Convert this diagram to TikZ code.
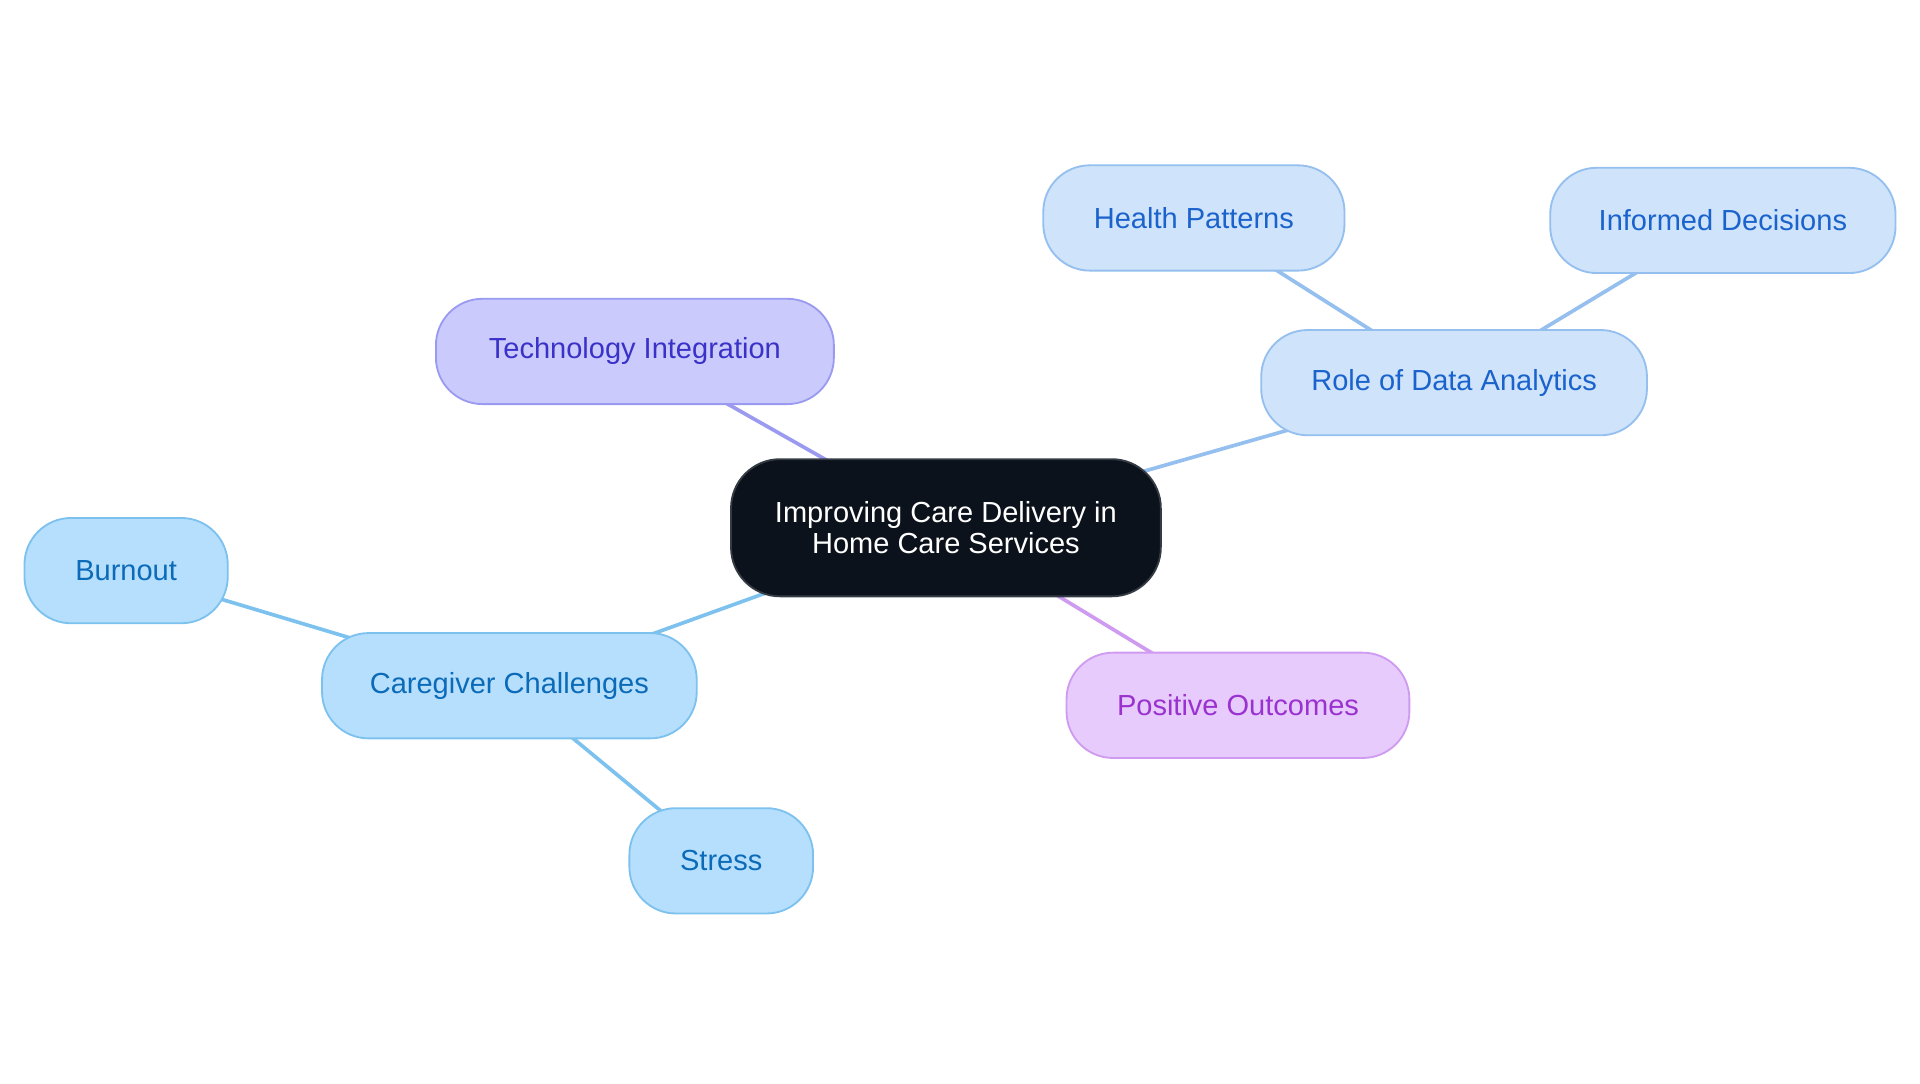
\documentclass[tikz,border=0pt]{standalone}
\usepackage{fontspec}
\setmainfont{Liberation Sans}
\usetikzlibrary{backgrounds}
\definecolor{cfill}{HTML}{0C121B}
\definecolor{cdraw}{HTML}{343B45}
\definecolor{tfill}{HTML}{CACBFC}
\definecolor{tdraw}{HTML}{9A9BF0}
\definecolor{ttext}{HTML}{3A32C8}
\definecolor{dfill}{HTML}{CFE3FB}
\definecolor{ddraw}{HTML}{94BFEE}
\definecolor{dtext}{HTML}{1A63CC}
\definecolor{gfill}{HTML}{B5DFFC}
\definecolor{gdraw}{HTML}{7DC1EE}
\definecolor{gtext}{HTML}{0C6BB8}
\definecolor{pfill}{HTML}{E7CBFC}
\definecolor{pdraw}{HTML}{CF9BF0}
\definecolor{ptext}{HTML}{9A32D0}
\tikzset{
  box/.style={rectangle, rounded corners=38pt, line width=1.5pt, inner sep=0pt,
    minimum height=86pt, align=center, font=\fontsize{23.7}{25}\selectfont},
  centralbox/.style={box, rounded corners=40pt, fill=cfill, draw=cdraw, text=white, minimum height=112pt, minimum width=351pt},
  techbox/.style={box, fill=tfill, draw=tdraw, text=ttext},
  databox/.style={box, fill=dfill, draw=ddraw, text=dtext},
  carebox/.style={box, fill=gfill, draw=gdraw, text=gtext},
  posbox/.style={box, fill=pfill, draw=pdraw, text=ptext},
  link/.style={line width=3pt}
}
\begin{document}
\begin{tikzpicture}[x=1pt,y=-1pt]
\useasboundingbox (0,0) rectangle (1568,884.5);
\node[centralbox] (c) at (772.5,431) {\raisebox{1.5pt}{\parbox{351pt}{\centering Improving Care Delivery in\\Home Care Services}}};
\node[techbox, minimum width=325pt] (t) at (518.5,287) {Technology Integration};
\node[databox, minimum width=315pt] (d) at (1187.5,312.5) {Role of Data Analytics};
\node[databox, minimum width=246pt] (hp) at (975,178) {Health Patterns};
\node[databox, minimum width=282pt] (id) at (1407,180) {Informed Decisions};
\node[carebox, minimum width=306pt] (cg) at (416,560) {Caregiver Challenges};
\node[carebox, minimum width=166pt] (b) at (103,466) {Burnout};
\node[carebox, minimum width=150pt] (s) at (589,703) {Stress};
\node[posbox, minimum width=280pt] (p) at (1011,576) {Positive Outcomes};
\begin{scope}[on background layer]
  \draw[link, tdraw] (c.center) -- (t.center);
  \draw[link, ddraw] (c.center) -- (d.center);
  \draw[link, ddraw] (d.center) -- (hp.center);
  \draw[link, ddraw] (d.center) -- (id.center);
  \draw[link, gdraw] (c.center) -- (cg.center);
  \draw[link, gdraw] (cg.center) -- (b.center);
  \draw[link, gdraw] (cg.center) -- (s.center);
  \draw[link, pdraw] (c.center) -- (p.center);
\end{scope}
\end{tikzpicture}
\end{document}
